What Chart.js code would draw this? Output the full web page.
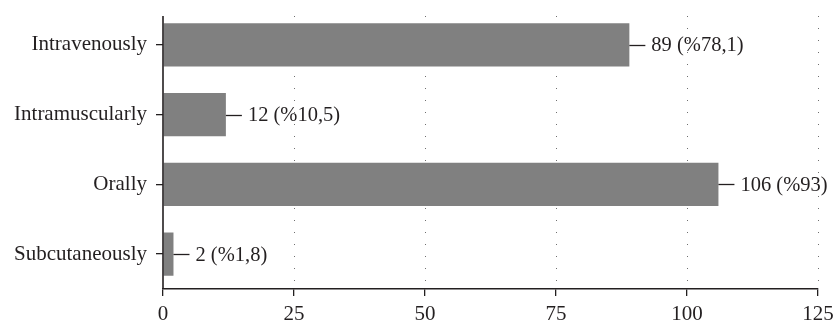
<!DOCTYPE html>
<html>
<head>
<meta charset="utf-8">
<script src="https://cdn.jsdelivr.net/npm/chart.js@4"></script>
<style>
  html, body { margin: 0; padding: 0; background: #fff; }
  #wrap { width: 834px; height: 323px; position: relative; }
</style>
</head>
<body>
<div id="wrap"><canvas id="bar-chart"></canvas></div>
<script>
const categories = ["Intravenously", "Intramuscularly", "Orally", "Subcutaneously"];
const counts = [89, 12, 106, 2];
const percentLabels = ["%78,1", "%10,5", "%93", "%1,8"];
const xTicks = [0, 25, 50, 75, 100, 125];

const INK = "#231f20";
const FONT = "'Liberation Serif', serif";

// dotted grid, y axis line and the value labels with leader lines
const decorations = {
  id: "decorations",
  beforeDatasetsDraw(chart) {
    const { ctx, chartArea, scales } = chart;
    ctx.save();
    ctx.strokeStyle = "#6f6f6f";
    ctx.lineWidth = 1;
    ctx.setLineDash([1, 11]);
    xTicks.slice(1).forEach(v => {
      const x = Math.round(scales.x.getPixelForValue(v)) + 0.5;
      ctx.beginPath();
      ctx.moveTo(x, 16);
      ctx.lineTo(x, chartArea.bottom);
      ctx.stroke();
    });
    ctx.restore();
  },
  afterDatasetsDraw(chart) {
    const { ctx, chartArea } = chart;
    ctx.save();
    ctx.strokeStyle = INK;
    ctx.lineWidth = 1.6;
    ctx.beginPath();
    ctx.moveTo(chartArea.left, 16);
    ctx.lineTo(chartArea.left, chartArea.bottom);
    ctx.stroke();

    ctx.lineWidth = 1.3;
    ctx.fillStyle = INK;
    ctx.font = "20.5px " + FONT;
    ctx.textBaseline = "middle";
    const meta = chart.getDatasetMeta(0);
    meta.data.forEach((bar, i) => {
      const y = Math.round(bar.y) + 0.5;
      ctx.beginPath();
      ctx.moveTo(bar.x, y);
      ctx.lineTo(bar.x + 16, y);
      ctx.stroke();
      ctx.fillText(counts[i] + " (" + percentLabels[i] + ")", bar.x + 22, bar.y + 1);
    });
    ctx.restore();
  }
};

const config = {
  type: "bar",
  data: {
    labels: categories,
    datasets: [{
      data: counts,
      backgroundColor: "#808080",
      borderWidth: 0,
      categoryPercentage: 1,
      barPercentage: 0.62
    }]
  },
  options: {
    indexAxis: "y",
    responsive: true,
    maintainAspectRatio: false,
    animation: false,
    layout: { padding: { top: 10, right: 16, left: 0, bottom: 0 } },
    plugins: { legend: { display: false }, tooltip: { enabled: false } },
    scales: {
      x: {
        min: 0,
        max: 125,
        afterBuildTicks: scale => { scale.ticks = xTicks.map(v => ({ value: v })); },
        afterFit: scale => { scale.height = 34; scale.paddingLeft = 0; scale.paddingRight = 0; },
        border: { display: true, color: INK, width: 1.6 },
        grid: { drawOnChartArea: false, color: INK, lineWidth: 1.3, tickLength: 7 },
        ticks: { color: INK, font: { family: FONT, size: 21 }, padding: 6, maxRotation: 0 }
      },
      y: {
        afterFit: scale => { scale.width = 163; scale.paddingTop = 0; scale.paddingBottom = 0; },
        border: { display: false },
        grid: { drawOnChartArea: false, offset: false, color: INK, lineWidth: 1.3, tickLength: 7 },
        ticks: { color: INK, font: { family: FONT, size: 21 }, padding: 9 }
      }
    }
  },
  plugins: [decorations]
};

new Chart(document.getElementById("bar-chart").getContext("2d"), config);
</script>
</body>
</html>
